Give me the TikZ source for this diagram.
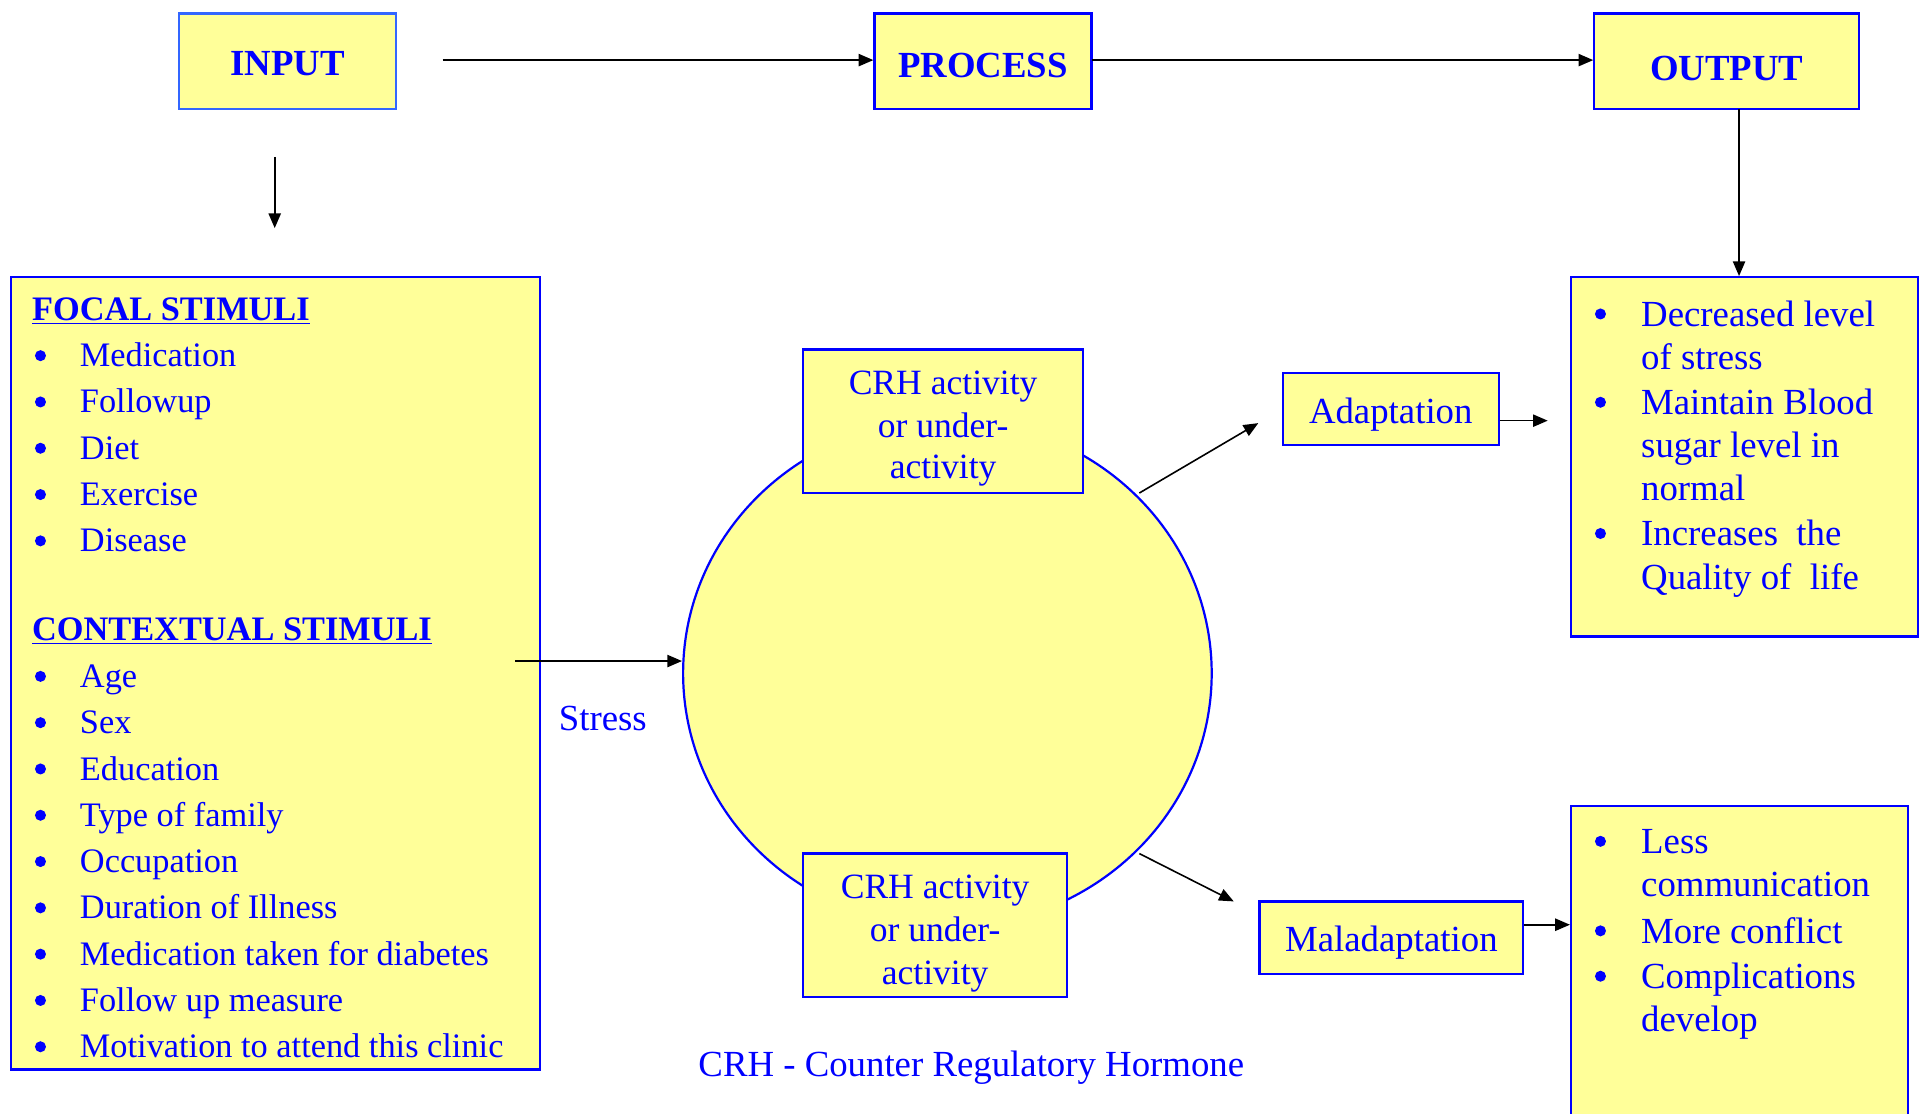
\documentclass[tikz,border=0pt]{standalone}
\usepackage{fontspec}
\setmainfont{Liberation Serif}
\usetikzlibrary{arrows.meta,shapes.geometric}
\definecolor{yel}{HTML}{FFFF99}
\definecolor{tblue}{RGB}{0,0,255}
\definecolor{lblue}{HTML}{3366FF}
\begin{document}
\begin{tikzpicture}[x=1pt,y=-1pt,
 box/.style={draw=tblue, fill=yel, line width=1.8pt, inner sep=0pt},
 hdr/.style={text=tblue, inner sep=0pt, font=\fontsize{30}{34}\selectfont\bfseries},
 lt/.style={text=tblue, inner sep=0pt, anchor=base west, font=\fontsize{28}{34}\selectfont},
 lh/.style={text=tblue, inner sep=0pt, anchor=base west, font=\fontsize{28}{34}\selectfont\bfseries},
 rt/.style={text=tblue, inner sep=0pt, anchor=base west, font=\fontsize{30}{34}\selectfont},
 rb/.style={text=tblue, inner sep=0pt, anchor=base, font=\fontsize{30}{34}\selectfont},
 ct/.style={text=tblue, inner sep=0pt, anchor=base, font=\fontsize{29}{34}\selectfont},
 dot/.style={circle, fill=tblue, inner sep=0pt, minimum size=9pt},
 arr/.style={draw=black, line width=1.3pt, -{Triangle[length=12pt,width=10pt]}},
]
\useasboundingbox (0,0) rectangle (1568,908);

% top row
\node[box, draw=lblue, minimum width=177pt, minimum height=78pt] (input) at (234.5,50) {};
\node[hdr] (inputt) at (234.5,52) {INPUT};
\node[box, minimum width=177pt, minimum height=78pt] (process) at (801.5,50) {};
\node[hdr] (processt) at (801.5,53) {PROCESS};
\node[box, minimum width=216pt, minimum height=78pt] (output) at (1408,50) {};
\node[hdr] (outputt) at (1408,56) {OUTPUT};

% left stimuli box
\node[box, minimum width=431pt, minimum height=646pt] (focal) at (224.5,549) {};
\node[lh] (fh) at (26,261.5) {\underline{FOCAL STIMULI}};
\foreach \t [count=\i from 0] in {Medication,Followup,Diet,Exercise,Disease} {
  \node[dot] (fb\i) at (33,{290+37.75*\i}) {};
  \node[lt] (ft\i) at (65,{299+37.75*\i}) {\t};
}
\node[lh] (ch) at (26,522.5) {\underline{CONTEXTUAL STIMULI}};
\foreach \t [count=\i from 0] in {Age,Sex,Education,Type of family,Occupation,Duration of Illness,Medication taken for diabetes,Follow up measure,Motivation to attend this clinic} {
  \node[dot] (cb\i) at (33,{551.5+37.75*\i}) {};
  \node[lt] (ct\i) at (65,{560.5+37.75*\i}) {\t};
}

% central ellipse
\node[ellipse, draw=tblue, fill=yel, line width=1.8pt, minimum width=431pt, minimum height=414pt, inner sep=0pt] (circ) at (772.5,549) {};
\node[box, minimum width=228pt, minimum height=117pt] (crh1) at (769,343.5) {};
\node[ct] (c1a) at (769,321.5) {CRH activity};
\node[ct] (c1b) at (769,356.5) {or under-};
\node[ct] (c1c) at (769,390.5) {activity};
\node[box, minimum width=215pt, minimum height=117pt] (crh2) at (762.5,754.5) {};
\node[ct] (c2a) at (762.5,732.5) {CRH activity};
\node[ct] (c2b) at (762.5,767.5) {or under-};
\node[ct] (c2c) at (762.5,802.5) {activity};

\node[text=tblue, inner sep=0pt, font=\fontsize{30}{34}\selectfont] (stress) at (491.5,586) {Stress};
\node[rb] (caption) at (792,878) {CRH - Counter Regulatory Hormone};

% adaptation / maladaptation
\node[box, minimum width=176pt, minimum height=59pt] (adapt) at (1134,333.5) {};
\node[rb] (adaptt) at (1134,345) {Adaptation};
\node[box, minimum width=215pt, minimum height=59pt] (malad) at (1134.5,764.5) {};
\node[rb] (maladt) at (1134.5,776) {Maladaptation};

% output lists
\node[box, minimum width=283pt, minimum height=293pt] (outbox) at (1422.5,372.5) {};
\foreach \t/\y in {Decreased level/266, of stress/301, Maintain Blood/338, sugar level in/373, normal/408, Increases\ \ the/445, Quality of\ \ life/481} {
  \node[rt] at (1338,\y) {\t};
}
\foreach \y [count=\i] in {256,328,435} {
  \node[dot] (ob\i) at (1305,\y) {};
}
\node[box, minimum width=275pt, minimum height=262pt] (box2) at (1418.5,788) {};
\foreach \t/\y in {Less/696, communication/731, More conflict/769, Complications/806, develop/841} {
  \node[rt] at (1338,\y) {\t};
}
\foreach \y [count=\i] in {686,759,796} {
  \node[dot] (mb\i) at (1305,\y) {};
}

% connectors
\coordinate (a1) at (361,49);
\draw[arr] (a1) -- (a1 -| process.west);
\coordinate (a3) at (890,49);
\draw[arr] (a3) -- (a3 -| output.west);
\coordinate (a2s) at (224,128);
\coordinate (a2e) at (224,186);
\draw[arr] (a2s) -- (a2e);
\coordinate (o1) at (1418,89);
\draw[arr] (o1) -- (o1 |- outbox.north);
\coordinate (s1) at (420,539);
\draw[arr] (s1) -- (s1 -| circ.west);
\coordinate (d1) at (929,402);
\coordinate (d2) at (1026,345);
\draw[arr] (d1) -- (d2);
\coordinate (d3) at (929,696);
\coordinate (d4) at (1006,735);
\draw[arr] (d3) -- (d4);
\coordinate (e2) at (1262,343);
\draw[arr] ([yshift=-9.5pt]adapt.east) -- (e2);
\draw[arr] ([yshift=10.5pt]malad.east) -- ([yshift=10.5pt]malad.east -| box2.west);
\end{tikzpicture}
\end{document}
